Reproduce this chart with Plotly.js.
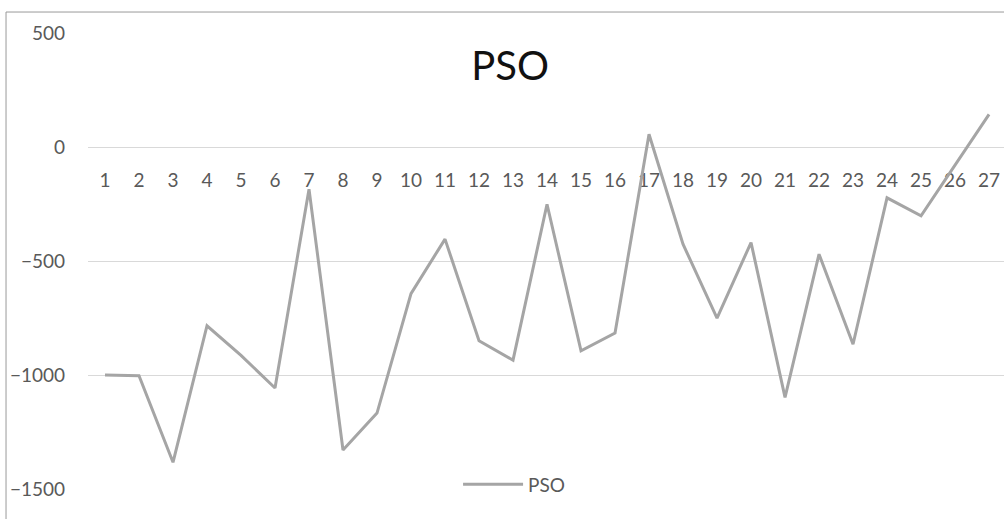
<!DOCTYPE html>
<html>
<head>
<meta charset="utf-8">
<script src="https://cdn.plot.ly/plotly-3.0.1.min.js"></script>
<style>html,body{margin:0;padding:0;background:#fff;}#chart{width:1004px;height:519px;}</style>
</head>
<body>
<div id="chart"></div>
<script>
const categories = ["1","2","3","4","5","6","7","8","9","10","11","12","13","14","15","16","17","18","19","20","21","22","23","24","25","26","27"];
const psoValues = [-1000, -1003, -1383, -784, -914, -1057, -185, -1329, -1167, -643, -404, -850, -935, -251, -894, -816, 56, -426, -751, -419, -1098, -470, -865, -223, -302, -80, 143];
const yTicks = [-1500, -1000, -500, 0, 500];
const seriesName = "PSO";
const chartTitle = "PSO";

const FONT = "Lato, 'Open Sans', sans-serif";
const trace = {
  type: 'scatter', mode: 'lines', name: seriesName,
  x: categories, y: psoValues,
  line: {color: '#a5a5a5', width: 3},
  hoverinfo: 'x+y'
};
const layout = {
  width: 1004, height: 519,
  margin: {l: 88, r: 0, t: 33, b: 30},
  paper_bgcolor: '#fff', plot_bgcolor: '#fff',
  font: {family: FONT, color: '#595959', size: 19},
  title: {text: chartTitle, font: {family: FONT, size: 40, color: '#111'}, x: 0.508, xanchor: 'center', y: 0.873, yanchor: 'middle'},
  xaxis: {
    type: 'category', range: [-0.5, 26.44],
    anchor: 'free', position: 0.75,
    showgrid: false, zeroline: false, showline: false,
    ticks: '', ticklabelstandoff: 20, tickangle: 0,
    layer: 'below traces',
    tickfont: {family: FONT, size: 19, color: '#595959'}
  },
  yaxis: {
    range: [-1500, 500], tickvals: yTicks,
    showgrid: true, gridcolor: '#d9d9d9', gridwidth: 1,
    zeroline: false, showline: false, ticks: '', ticklabelstandoff: 22,
    tickfont: {family: FONT, size: 19, color: '#595959'}
  },
  showlegend: true,
  legend: {x: 0.404, xanchor: 'left', y: 0.01, yanchor: 'middle', orientation: 'h', bgcolor: 'rgba(0,0,0,0)', itemwidth: 60, font: {family: FONT, size: 19, color: '#595959'}},
  shapes: [{type: 'rect', xref: 'paper', yref: 'paper', x0: -0.0895, x1: 1.2, y0: -0.3, y1: 1.046, line: {color: '#999', width: 1}, fillcolor: 'rgba(0,0,0,0)', layer: 'below'}]
};
Plotly.newPlot('chart', [trace], layout, {displayModeBar: false, staticPlot: true});
</script>
</body>
</html>
